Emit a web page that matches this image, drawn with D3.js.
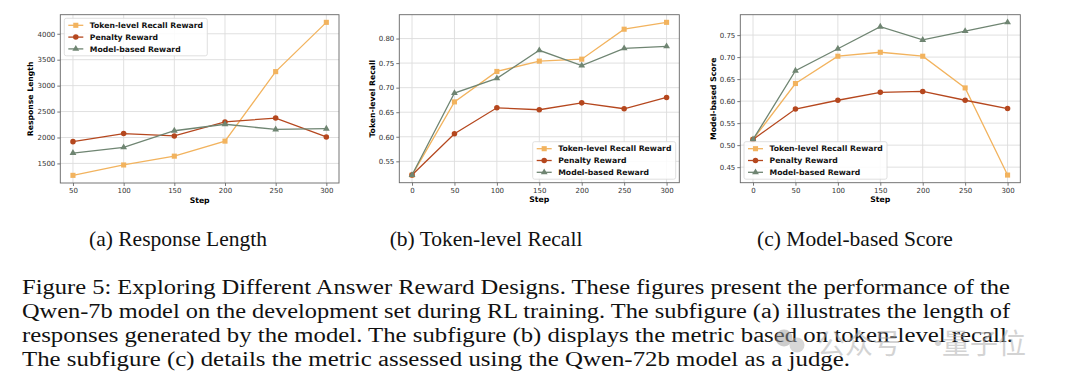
<!DOCTYPE html>
<html>
<head>
<meta charset="utf-8">
<script src="https://cdn.jsdelivr.net/npm/d3@7"></script>
<style>
  body { margin: 0; background: #fff; }
  svg { display: block; }
</style>
</head>
<body>
<div id="fig"></div>
<script>
// series names and colours
const seriesNames = ["Token-level Recall Reward", "Penalty Reward", "Model-based Reward"];
const seriesColors = ["#f2b35e", "#b5471e", "#6f8572"];
const seriesShapes = ["square", "circle", "triangle"];

// (a) response length
const stepsA = [50, 100, 150, 200, 250, 300];
const lenToken = [1270, 1470, 1640, 1930, 3270, 4220];
const lenPenalty = [1920, 2075, 2030, 2300, 2375, 2010];
const lenModel = [1700, 1810, 2130, 2255, 2155, 2170];
const yTicksA = [1500, 2000, 2500, 3000, 3500, 4000];

// (b) token-level recall
const stepsB = [0, 50, 100, 150, 200, 250, 300];
const recToken = [0.522, 0.671, 0.733, 0.754, 0.758, 0.819, 0.833];
const recPenalty = [0.522, 0.606, 0.659, 0.655, 0.669, 0.657, 0.680];
const recModel = [0.522, 0.689, 0.719, 0.776, 0.745, 0.780, 0.784];
const yTicksB = [0.55, 0.60, 0.65, 0.70, 0.75, 0.80];

// (c) model-based score
const stepsC = [0, 50, 100, 150, 200, 250, 300];
const scoreToken = [0.513, 0.640, 0.702, 0.711, 0.702, 0.630, 0.432];
const scorePenalty = [0.513, 0.582, 0.602, 0.620, 0.622, 0.602, 0.583];
const scoreModel = [0.513, 0.669, 0.719, 0.769, 0.739, 0.759, 0.779];
const yTicksC = [0.45, 0.50, 0.55, 0.60, 0.65, 0.70, 0.75];

const subCaptions = ["(a) Response Length", "(b) Token-level Recall", "(c) Model-based Score"];
const captionLines = [
  "Figure 5: Exploring Different Answer Reward Designs. These figures present the performance of the",
  "Qwen-7b model on the development set during RL training. The subfigure (a) illustrates the length of",
  "responses generated by the model. The subfigure (b) displays the metric based on token-level recall.",
  "The subfigure (c) details the metric assessed using the Qwen-72b model as a judge."
];
const watermark = ["公众号", "·", "量子位"];

const W = 1080, H = 388;
const svg = d3.select("#fig").append("svg").attr("width", W).attr("height", H);
svg.append("rect").attr("width", W).attr("height", H).attr("fill", "#fff");

function drawPanel(p) {
  const g = svg.append("g");
  const all = p.series.flat();
  const lo = d3.min(all), hi = d3.max(all);
  const pad = (hi - lo) * 0.05;
  const xlo = d3.min(p.steps), xhi = d3.max(p.steps);
  const xpad = (xhi - xlo) * 0.05;

  const x = d3.scaleLinear().domain([xlo - xpad, xhi + xpad]).range([p.left, p.right]);
  const y = d3.scaleLinear().domain([lo - pad, hi + pad]).range([p.bottom, p.top]);

  // grid
  g.append("g").selectAll("line").data(p.steps).join("line")
    .attr("x1", d => x(d)).attr("x2", d => x(d))
    .attr("y1", p.top).attr("y2", p.bottom)
    .attr("stroke", "#dcdcdc").attr("stroke-width", 0.9);
  g.append("g").selectAll("line").data(p.yTicks).join("line")
    .attr("x1", p.left).attr("x2", p.right)
    .attr("y1", d => y(d)).attr("y2", d => y(d))
    .attr("stroke", "#dcdcdc").attr("stroke-width", 0.9);

  // axes
  const xAxis = g.append("g")
    .attr("transform", `translate(0,${p.bottom})`)
    .call(d3.axisBottom(x).tickValues(p.steps).tickSize(3).tickPadding(2).tickFormat(d3.format("d")));
  const yAxis = g.append("g")
    .attr("transform", `translate(${p.left},0)`)
    .call(d3.axisLeft(y).tickValues(p.yTicks).tickSize(3).tickPadding(2).tickFormat(p.fmt));
  [xAxis, yAxis].forEach(a => {
    a.select(".domain").remove();
    a.selectAll(".tick line").attr("stroke", "#555").attr("stroke-width", 0.8);
    a.selectAll(".tick text").attr("fill", "#333")
      .style("font-family", "DejaVu Sans").style("font-size", "7px");
  });

  // frame
  g.append("rect")
    .attr("x", p.left).attr("y", p.top)
    .attr("width", p.right - p.left).attr("height", p.bottom - p.top)
    .attr("fill", "none").attr("stroke", "#666").attr("stroke-width", 0.9);

  // lines + markers
  const line = d3.line().x((d, i) => x(p.steps[i])).y(d => y(d));
  p.series.forEach((vals, s) => {
    g.append("path").datum(vals)
      .attr("fill", "none").attr("stroke", seriesColors[s]).attr("stroke-width", 1.3)
      .attr("d", line);
    g.append("g").selectAll("path").data(vals).join("path")
      .attr("transform", (d, i) => `translate(${x(p.steps[i])},${y(d)})`)
      .attr("d", marker(seriesShapes[s]))
      .attr("fill", seriesColors[s]);
  });

  // axis titles
  g.append("text")
    .attr("x", (p.left + p.right) / 2).attr("y", p.bottom + 19.5)
    .attr("text-anchor", "middle")
    .style("font-family", "DejaVu Sans").style("font-weight", "bold").style("font-size", "7.7px")
    .text("Step");
  g.append("text")
    .attr("transform", `translate(${p.ylabelX},${(p.top + p.bottom) / 2}) rotate(-90)`)
    .attr("text-anchor", "middle")
    .style("font-family", "DejaVu Sans").style("font-weight", "bold").style("font-size", "7.7px")
    .text(p.ylabel);

  // legend
  const lg = g.append("g").attr("transform", `translate(${p.legX},${p.legY})`);
  lg.append("rect").attr("width", 143).attr("height", 37.5).attr("rx", 2)
    .attr("fill", "#fff").attr("fill-opacity", 0.85).attr("stroke", "#d8d8d8").attr("stroke-width", 0.8);
  seriesNames.forEach((name, s) => {
    const ry = 7 + s * 11.8;
    lg.append("line").attr("x1", 4).attr("x2", 19).attr("y1", ry).attr("y2", ry)
      .attr("stroke", seriesColors[s]).attr("stroke-width", 1.3);
    lg.append("path").attr("transform", `translate(11.5,${ry})`)
      .attr("d", marker(seriesShapes[s])).attr("fill", seriesColors[s]);
    lg.append("text").attr("x", 25.5).attr("y", ry + 2.8)
      .style("font-family", "DejaVu Sans").style("font-weight", "bold").style("font-size", "7.7px")
      .attr("fill", "#111")
      .text(name);
  });

  // sub caption
  svg.append("text")
    .attr("x", p.capX).attr("y", 245.5)
    .attr("text-anchor", "middle")
    .style("font-family", "Liberation Serif").style("font-size", "21.5px")
    .attr("fill", "#111")
    .text(p.caption);
}

function marker(shape) {
  if (shape === "square") return d3.symbol(d3.symbolSquare, 26)();
  if (shape === "circle") return d3.symbol(d3.symbolCircle, 24)();
  return d3.symbol(d3.symbolTriangle, 20)();
}

drawPanel({
  steps: stepsA, series: [lenToken, lenPenalty, lenModel], yTicks: yTicksA, fmt: d3.format("d"),
  left: 60.3, right: 339, top: 14.7, bottom: 183, ylabel: "Response Length", ylabelX: 33,
  legX: 64.3, legY: 18.3, caption: subCaptions[0], capX: 178
});
drawPanel({
  steps: stepsB, series: [recToken, recPenalty, recModel], yTicks: yTicksB, fmt: d3.format(".2f"),
  left: 399.3, right: 679.3, top: 14.7, bottom: 182.7, ylabel: "Token-level Recall", ylabelX: 375,
  legX: 532.7, legY: 141.7, caption: subCaptions[1], capX: 486
});
drawPanel({
  steps: stepsC, series: [scoreToken, scorePenalty, scoreModel], yTicks: yTicksC, fmt: d3.format(".2f"),
  left: 740.3, right: 1020.3, top: 14.7, bottom: 182.7, ylabel: "Model-based Score", ylabelX: 716,
  legX: 744, legY: 141.7, caption: subCaptions[2], capX: 855
});

// figure caption, justified lines (glyphs stretched a little, like the scan)
const capWidths = [988, 988, 991, 828];
captionLines.forEach((t, i) => {
  svg.append("text")
    .attr("x", 22).attr("y", 294 + i * 24)
    .style("font-family", "Liberation Serif").style("font-size", "21.6px")
    .attr("fill", "#111")
    .attr("textLength", capWidths[i]).attr("lengthAdjust", "spacingAndGlyphs")
    .text(t);
});

// watermark
const wm = svg.append("g").attr("opacity", 0.5);
wm.append("circle").attr("cx", 784).attr("cy", 338).attr("r", 8.5).attr("fill", "#9a9a9a");
wm.append("circle").attr("cx", 797).attr("cy", 345).attr("r", 7.5).attr("fill", "#b0b0b0");
const wmX = [817, 924, 942];
watermark.forEach((t, i) => {
  wm.append("text").attr("x", wmX[i]).attr("y", 354)
    .style("font-family", "Noto Sans CJK SC").style("font-size", "28px")
    .attr("fill", "#a8a8a8")
    .text(t);
});
</script>
</body>
</html>
